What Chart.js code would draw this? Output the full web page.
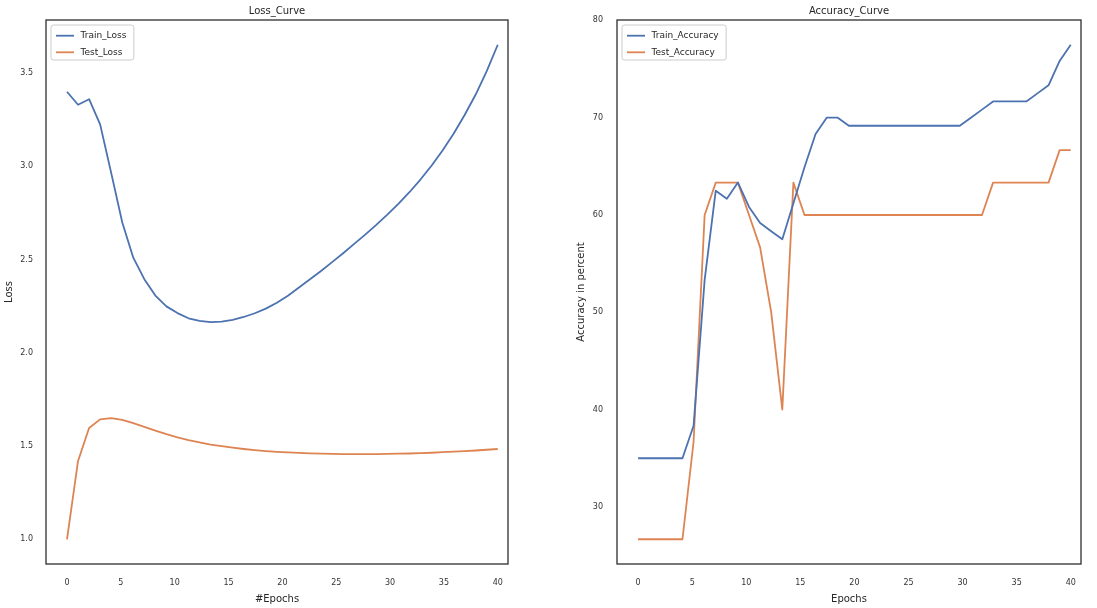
<!DOCTYPE html>
<html>
<head>
<meta charset="utf-8">
<script src="https://cdn.jsdelivr.net/npm/chart.js@4.4.1/dist/chart.umd.min.js"></script>
<style>
  html, body { margin: 0; padding: 0; background: #ffffff; overflow: hidden; }
  #wrap { position: relative; width: 1097px; height: 608px; }
  .panel { position: absolute; top: 0; height: 608px; }
</style>
</head>
<body>
<div id="wrap">
  <div class="panel" style="left:0;width:548px"><canvas id="lossChart" width="548" height="608"></canvas></div>
  <div class="panel" style="left:548px;width:549px"><canvas id="accChart" width="549" height="608"></canvas></div>
</div>
<script>
// ---------------- data ----------------
const epochs = [0,1,2,3,4,5,6,7,8,9,10,11,12,13,14,15,16,17,18,19,
                20,21,22,23,24,25,26,27,28,29,30,31,32,33,34,35,36,37,38,39];
const xTicks = [0, 5, 10, 15, 20, 25, 30, 35, 40];
const lossTicks = [1.0, 1.5, 2.0, 2.5, 3.0, 3.5];
const accTicks = [30, 40, 50, 60, 70, 80];

const trainLoss = [3.40, 3.33, 3.36, 3.225, 2.965, 2.70, 2.51, 2.395, 2.307, 2.249,
                   2.213, 2.185, 2.171, 2.164, 2.167, 2.177, 2.192, 2.212, 2.237, 2.268,
                   2.306, 2.350, 2.394, 2.439, 2.486, 2.534, 2.584, 2.634, 2.686, 2.741,
                   2.799, 2.861, 2.929, 3.003, 3.085, 3.175, 3.275, 3.385, 3.51, 3.652];
const testLoss  = [1.00, 1.42, 1.597, 1.643, 1.650, 1.640, 1.623, 1.603, 1.583, 1.564,
                   1.547, 1.532, 1.519, 1.508, 1.499, 1.491, 1.484, 1.478, 1.473, 1.469,
                   1.466, 1.463, 1.461, 1.459, 1.458, 1.457, 1.457, 1.457, 1.457, 1.458,
                   1.459, 1.460, 1.462, 1.464, 1.467, 1.470, 1.473, 1.476, 1.480, 1.484];
const trainAcc  = [35.0, 35.0, 35.0, 35.0, 35.0, 38.33, 53.33, 62.5, 61.67, 63.33,
                   60.83, 59.17, 58.33, 57.5, 61.2, 64.9, 68.33, 70.0, 70.0, 69.17,
                   69.17, 69.17, 69.17, 69.17, 69.17, 69.17, 69.17, 69.17, 69.17, 69.17,
                   70.0, 70.83, 71.67, 71.67, 71.67, 71.67, 72.5, 73.33, 75.83, 77.5];
const testAcc   = [26.67, 26.67, 26.67, 26.67, 26.67, 36.67, 60.0, 63.33, 63.33, 63.33,
                   60.0, 56.67, 50.0, 40.0, 63.33, 60.0, 60.0, 60.0, 60.0, 60.0,
                   60.0, 60.0, 60.0, 60.0, 60.0, 60.0, 60.0, 60.0, 60.0, 60.0,
                   60.0, 60.0, 63.33, 63.33, 63.33, 63.33, 63.33, 63.33, 66.67, 66.67];

// the source plotted the 40 epochs over an x range of 0..40 (like np.linspace(0, 40, 40))
const X_SPAN = 40 / 39;

// ---------------- style ----------------
const FONT = '"DejaVu Sans", sans-serif';
const BLUE = '#4C72B0';
const ORANGE = '#DD8452';
const TEXT = '#262626';

function pts(arr) { return epochs.map((e, i) => ({ x: e * X_SPAN, y: arr[i] })); }

function limits(series) {
  const all = [].concat(...series);
  const lo = Math.min(...all), hi = Math.max(...all);
  const m = (hi - lo) * 0.05;
  return [lo - m, hi + m];
}

const frameLegend = {
  id: 'frameLegend',
  afterLayout(chart) {
    const t = chart.titleBlock, a = chart.chartArea;
    if (t && a) { t.left = a.left; t.right = a.right; t.width = a.right - a.left; }
  },
  afterDraw(chart) {
    const { ctx, chartArea: a } = chart;
    ctx.save();
    // axes frame
    ctx.strokeStyle = TEXT;
    ctx.lineWidth = 1.25;
    ctx.strokeRect(a.left, a.top, a.right - a.left, a.bottom - a.top);
    // legend (upper left, inside axes)
    ctx.font = '9px ' + FONT;
    const ds = chart.data.datasets;
    const tw = Math.max(...ds.map(d => ctx.measureText(d.label).width));
    const bx = a.left + 5, by = a.top + 5, bw = tw + 37, bh = 35, r = 2.5;
    ctx.beginPath();
    ctx.moveTo(bx + r, by);
    ctx.lineTo(bx + bw - r, by);
    ctx.arcTo(bx + bw, by, bx + bw, by + r, r);
    ctx.lineTo(bx + bw, by + bh - r);
    ctx.arcTo(bx + bw, by + bh, bx + bw - r, by + bh, r);
    ctx.lineTo(bx + r, by + bh);
    ctx.arcTo(bx, by + bh, bx, by + bh - r, r);
    ctx.lineTo(bx, by + r);
    ctx.arcTo(bx, by, bx + r, by, r);
    ctx.closePath();
    ctx.fillStyle = 'rgba(255,255,255,0.85)';
    ctx.fill();
    ctx.strokeStyle = '#cccccc';
    ctx.lineWidth = 1;
    ctx.stroke();
    ds.forEach((d, i) => {
      const cy = by + 10.7 + i * 16.6;
      ctx.beginPath();
      ctx.moveTo(bx + 5, cy);
      ctx.lineTo(bx + 23, cy);
      ctx.strokeStyle = d.borderColor;
      ctx.lineWidth = 1.8;
      ctx.stroke();
      ctx.fillStyle = TEXT;
      ctx.textBaseline = 'middle';
      ctx.textAlign = 'left';
      ctx.fillText(d.label, bx + 29.5, cy);
    });
    ctx.restore();
  }
};

function lineDs(label, arr, color) {
  return {
    label, data: pts(arr), borderColor: color, backgroundColor: color,
    borderWidth: 1.8, pointRadius: 0, tension: 0, fill: false,
    borderJoinStyle: 'round', borderCapStyle: 'butt'
  };
}

function makeChart(id, cfg) {
  const [ymin, ymax] = limits(cfg.series.map(s => s[1]));
  return new Chart(document.getElementById(id), {
    type: 'line',
    data: { datasets: cfg.series.map(s => lineDs(s[0], s[1], s[2])) },
    options: {
      responsive: false,
      animation: false,
      layout: { padding: { left: 0, right: cfg.padRight, top: 0, bottom: 0 } },
      plugins: {
        legend: { display: false },
        tooltip: { enabled: false },
        title: {
          display: true, text: cfg.title, color: TEXT,
          font: { family: FONT, size: 10, weight: 'normal' },
          padding: { top: 5, bottom: 3 }
        }
      },
      scales: {
        x: {
          type: 'linear', min: -1.95, max: 40.95,
          afterBuildTicks: s => { s.ticks = xTicks.map(v => ({ value: v })); },
          afterFit: s => { s.height = 44; },
          grid: { display: false, drawTicks: false },
          border: { display: false },
          ticks: {
            font: { family: FONT, size: 8 }, color: '#333333', padding: 14,
            maxRotation: 0, autoSkip: false, callback: v => String(v)
          },
          title: {
            display: true, text: cfg.xTitle, color: TEXT,
            font: { family: FONT, size: 10 }, padding: { top: 0, bottom: 3 }
          }
        },
        y: {
          type: 'linear', min: ymin, max: ymax,
          afterBuildTicks: s => { s.ticks = cfg.yTicks.map(v => ({ value: v })); },
          afterFit: s => { s.width = cfg.yWidth; },
          grid: { display: false, drawTicks: false },
          border: { display: false },
          ticks: {
            font: { family: FONT, size: 8 }, color: '#333333', padding: cfg.tickPad,
            autoSkip: false, callback: cfg.fmt
          },
          title: {
            display: true, text: cfg.yTitle, color: TEXT,
            font: { family: FONT, size: 10 }, padding: { top: cfg.yTitlePad, bottom: 0 }
          }
        }
      }
    },
    plugins: [frameLegend]
  });
}

makeChart('lossChart', {
  title: 'Loss_Curve', xTitle: '#Epochs', yTitle: 'Loss',
  series: [['Train_Loss', trainLoss, BLUE], ['Test_Loss', testLoss, ORANGE]],
  yTicks: lossTicks, fmt: v => Number(v).toFixed(1),
  yWidth: 46, padRight: 40, tickPad: 13, yTitlePad: 3
});

makeChart('accChart', {
  title: 'Accuracy_Curve', xTitle: 'Epochs', yTitle: 'Accuracy in percent',
  series: [['Train_Accuracy', trainAcc, BLUE], ['Test_Accuracy', testAcc, ORANGE]],
  yTicks: accTicks, fmt: v => String(v),
  yWidth: 69, padRight: 16, tickPad: 14, yTitlePad: 27
});
</script>
</body>
</html>
